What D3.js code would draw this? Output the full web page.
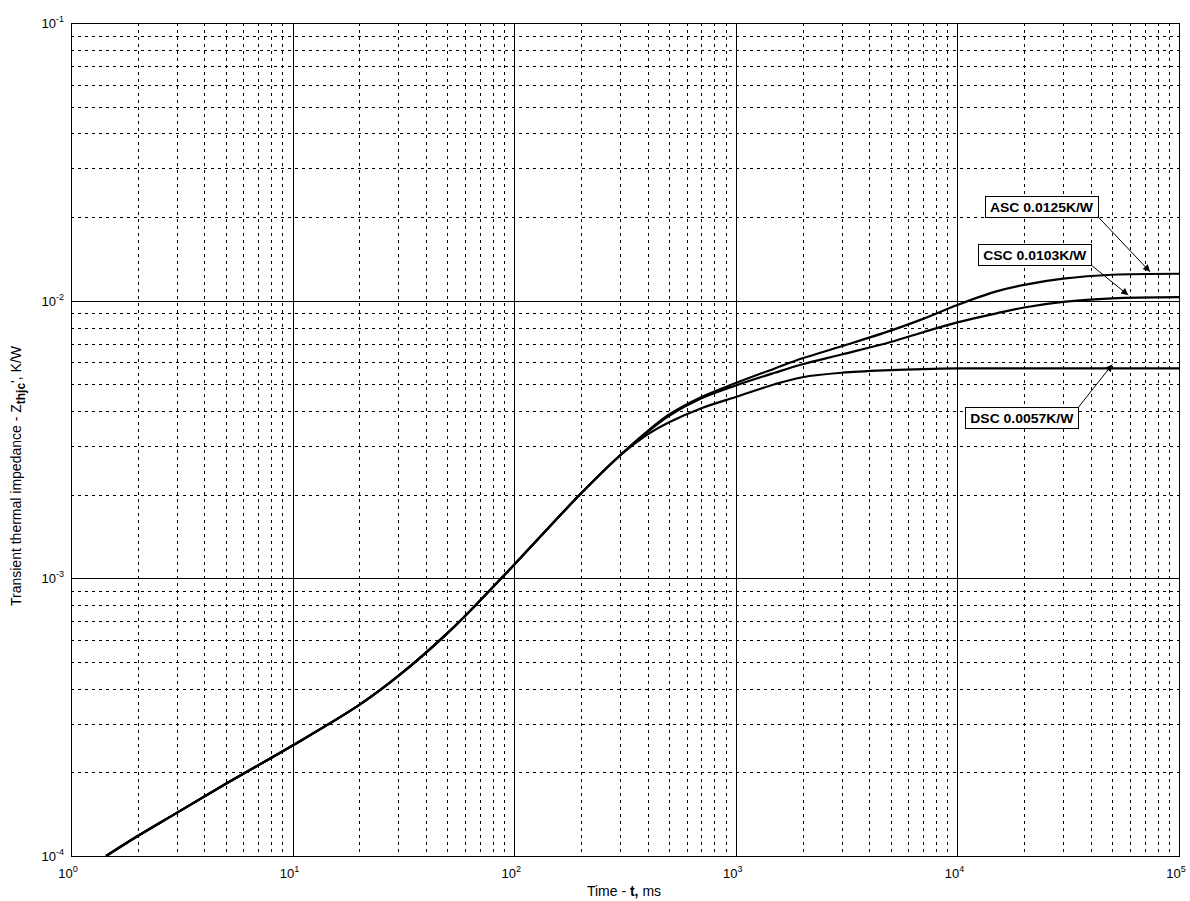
<!DOCTYPE html>
<html>
<head>
<meta charset="utf-8">
<script src="https://cdn.jsdelivr.net/npm/d3@7.9.0/dist/d3.min.js"></script>
<style>
  body { margin: 0; background: #fff; }
  svg { font-family: Arial, "Liberation Sans", sans-serif; }
</style>
</head>
<body>
<svg id="chart" width="1190" height="901"></svg>
<script>
// time points (ms) and Zthjc (K/W)
const tCommon = [1.44, 2, 3, 5, 10, 20, 30, 50, 70, 100, 200, 300];
const zCommon = [1.0e-4, 1.18e-4, 1.43e-4, 1.82e-4, 2.5e-4, 3.5e-4, 4.45e-4, 6.35e-4, 8.3e-4, 1.12e-3, 2.02e-3, 2.77e-3];

const tSplit = [400, 500, 700, 1000, 1500, 2000, 3000, 5000, 7000, 10000, 15000, 20000, 30000, 50000, 100000];
const zASC = [3.39e-3, 3.89e-3, 4.5e-3, 5.05e-3, 5.7e-3, 6.2e-3, 6.85e-3, 7.8e-3, 8.6e-3, 9.65e-3, 1.08e-2, 1.14e-2, 1.2e-2, 1.24e-2, 1.25e-2];
const zCSC = [3.37e-3, 3.85e-3, 4.45e-3, 4.95e-3, 5.5e-3, 5.9e-3, 6.4e-3, 7.1e-3, 7.7e-3, 8.35e-3, 9.0e-3, 9.45e-3, 9.9e-3, 1.02e-2, 1.03e-2];
const zDSC = [3.3e-3, 3.65e-3, 4.1e-3, 4.5e-3, 5.0e-3, 5.3e-3, 5.5e-3, 5.62e-3, 5.67e-3, 5.7e-3, 5.7e-3, 5.7e-3, 5.7e-3, 5.7e-3, 5.7e-3];

const labels = ['ASC 0.0125K/W', 'CSC 0.0103K/W', 'DSC 0.0057K/W'];
const finalVals = [0.0125, 0.0103, 0.0057];
const arrowT = [74000, 59000, 50000];

const xDecades = [0, 1, 2, 3, 4, 5];
const yDecades = [-4, -3, -2, -1];

const svg = d3.select('#chart');
const m = { left: 71, top: 23, right: 1179, bottom: 856 };

const x = d3.scaleLog().domain([1, 1e5]).range([m.left, m.right]);
const y = d3.scaleLog().domain([1e-4, 1e-1]).range([m.bottom, m.top]);

// minor and major grid values
let xMinor = [], yMinor = [];
for (let e = 0; e < 5; e++) for (let k = 2; k <= 9; k++) xMinor.push(k * Math.pow(10, e));
for (let e = -4; e < -1; e++) for (let k = 2; k <= 9; k++) yMinor.push(k * Math.pow(10, e));

const px = v => Math.round(v) + 0.5;
const grid = svg.append('g');
grid.selectAll('.xm').data(xMinor).enter().append('line')
  .attr('x1', d => px(x(d))).attr('x2', d => px(x(d)))
  .attr('y1', m.top).attr('y2', m.bottom)
  .attr('stroke', '#000').attr('stroke-width', 1).attr('stroke-dasharray', '3,4');
grid.selectAll('.ym').data(yMinor).enter().append('line')
  .attr('y1', d => px(y(d))).attr('y2', d => px(y(d)))
  .attr('x1', m.left).attr('x2', m.right)
  .attr('stroke', '#000').attr('stroke-width', 1).attr('stroke-dasharray', '3,4');
grid.selectAll('.xM').data(xDecades.slice(1, -1)).enter().append('line')
  .attr('x1', d => px(x(Math.pow(10, d)))).attr('x2', d => px(x(Math.pow(10, d))))
  .attr('y1', m.top).attr('y2', m.bottom)
  .attr('stroke', '#000').attr('stroke-width', 1);
grid.selectAll('.yM').data(yDecades.slice(1, -1)).enter().append('line')
  .attr('y1', d => px(y(Math.pow(10, d)))).attr('y2', d => px(y(Math.pow(10, d))))
  .attr('x1', m.left).attr('x2', m.right)
  .attr('stroke', '#000').attr('stroke-width', 1);

// plot box
svg.append('rect')
  .attr('x', m.left + 0.5).attr('y', m.top + 0.5)
  .attr('width', m.right - m.left).attr('height', m.bottom - m.top)
  .attr('fill', 'none').attr('stroke', '#000').attr('stroke-width', 1);

// tick labels like 10^n
xDecades.forEach(e => {
  const t = svg.append('text').attr('x', x(Math.pow(10, e)) - 3).attr('y', 878)
    .attr('font-size', 13).attr('text-anchor', 'middle').attr('fill', '#000');
  t.append('tspan').text('10');
  t.append('tspan').attr('font-size', 9).attr('dy', -6).text(e);
});
yDecades.forEach(e => {
  const t = svg.append('text').attr('x', 64).attr('y', y(Math.pow(10, e)) + 5)
    .attr('font-size', 13).attr('text-anchor', 'end').attr('fill', '#000');
  t.append('tspan').text('10');
  t.append('tspan').attr('font-size', 9).attr('dy', -6).text(e);
});

// axis titles
const xt = svg.append('text').attr('x', 624).attr('y', 896).attr('text-anchor', 'middle')
  .attr('font-size', 14).attr('fill', '#000');
xt.append('tspan').text('Time - ');
xt.append('tspan').attr('font-weight', 'bold').text('t,');
xt.append('tspan').text(' ms');

const yt = svg.append('text').attr('transform', 'translate(21,476) rotate(-90)')
  .attr('text-anchor', 'middle').attr('font-size', 14).attr('fill', '#000');
yt.append('tspan').text('Transient thermal impedance - Z');
yt.append('tspan').attr('font-weight', 'bold').attr('font-size', 12).attr('dy', 4).text('thjc');
yt.append('tspan').attr('dy', -4).text("', K/W");

// curves
const line = d3.line().x(d => x(d[0])).y(d => y(d[1])).curve(d3.curveCatmullRom.alpha(0.5));
const common = tCommon.map((t, i) => [t, zCommon[i]]);
[zASC, zCSC, zDSC].forEach(vals => {
  const pts = common.concat(tSplit.map((t, i) => [t, vals[i]]));
  svg.append('path').datum(pts).attr('d', line)
    .attr('fill', 'none').attr('stroke', '#000').attr('stroke-width', 2.2)
    .attr('stroke-linejoin', 'round');
});

// annotation boxes with arrows
svg.append('defs').append('marker').attr('id', 'arr')
  .attr('viewBox', '0 0 10 10').attr('refX', 10).attr('refY', 5)
  .attr('markerWidth', 9).attr('markerHeight', 7).attr('orient', 'auto')
  .attr('markerUnits', 'userSpaceOnUse')
  .append('path').attr('d', 'M0,0 L10,5 L0,10 z').attr('fill', '#000');

// box offsets (px) relative to arrow tip
const boxOff = [[-165, -76], [-150, -51], [-147, 43]];
labels.forEach((lab, i) => {
  const tipX = x(arrowT[i]);
  const tipY = y(finalVals[i]) + (i === 2 ? -4 : -2);
  const bx = tipX + boxOff[i][0], by = tipY + boxOff[i][1];
  const w = 113, h = 21;
  const g = svg.append('g');
  g.append('rect').attr('x', px(bx)).attr('y', px(by)).attr('width', w).attr('height', h)
    .attr('fill', '#fff').attr('stroke', '#000').attr('stroke-width', 1);
  g.append('text').attr('x', bx + 5).attr('y', by + 16)
    .attr('font-size', 13).attr('font-weight', 'bold').attr('fill', '#000')
    .attr('textLength', 103).attr('lengthAdjust', 'spacingAndGlyphs').text(lab);
  const sx = bx + w, sy = i === 2 ? by : by + h;
  g.append('line').attr('x1', sx).attr('y1', sy).attr('x2', tipX).attr('y2', tipY)
    .attr('stroke', '#000').attr('stroke-width', 1).attr('marker-end', 'url(#arr)');
});
</script>
</body>
</html>
